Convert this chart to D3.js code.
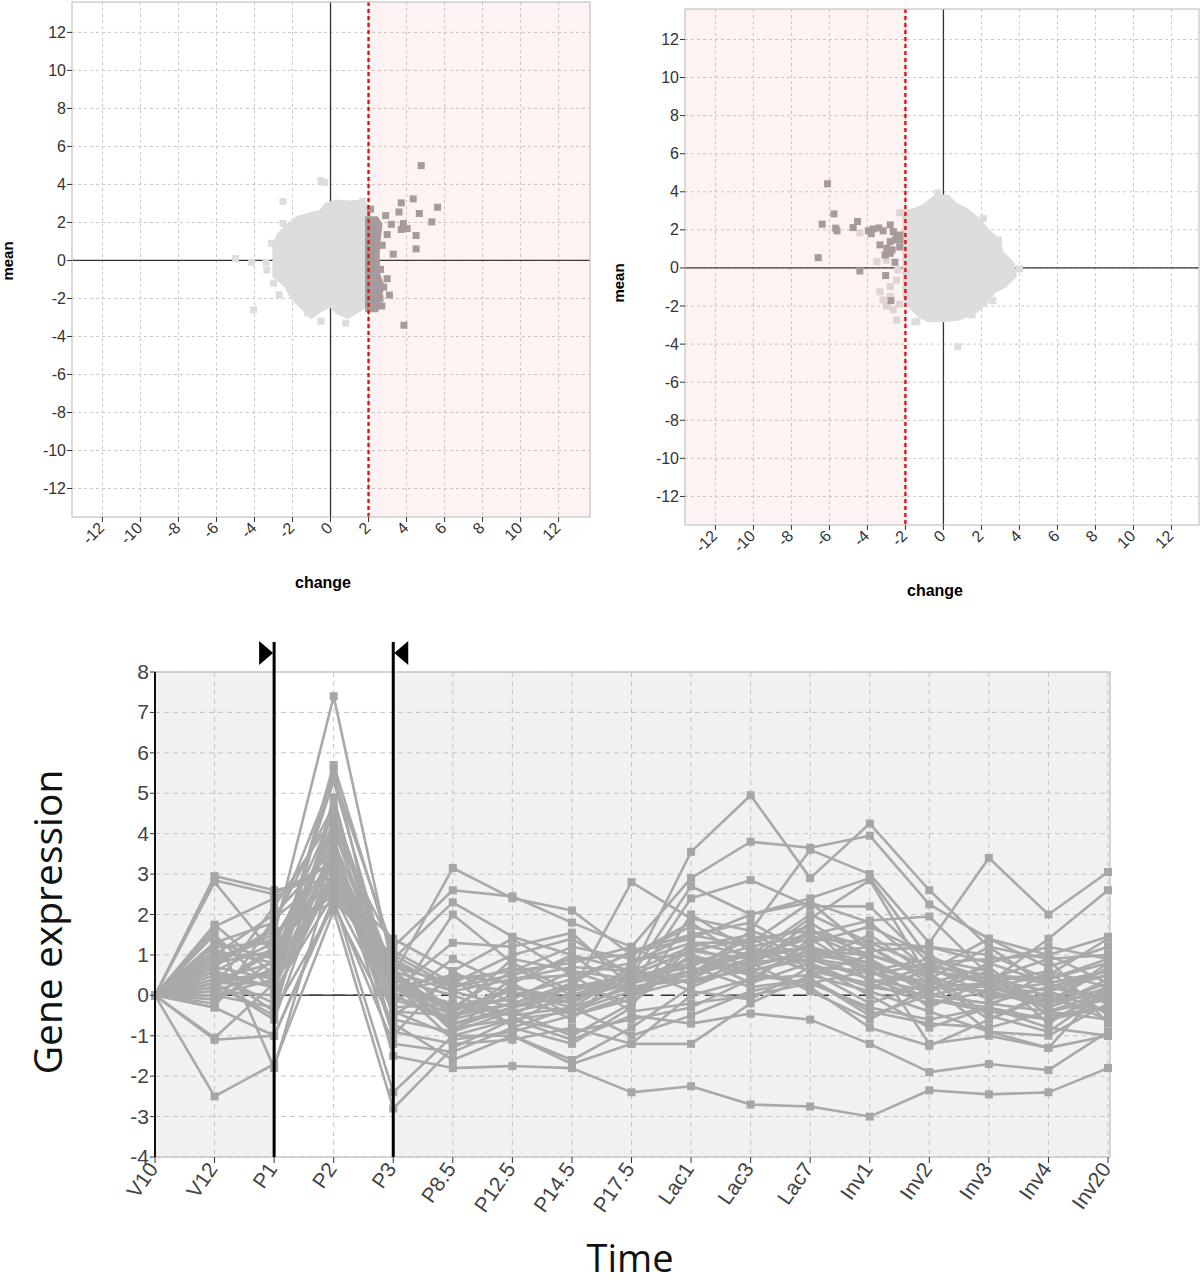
<!DOCTYPE html>
<html><head><meta charset="utf-8">
<script src="https://cdn.jsdelivr.net/npm/d3@7"></script>
<style>body{margin:0;background:#fff}svg{display:block}</style>
</head><body><svg id="c" width="1200" height="1286"></svg>
<script>
// ---------- scatter data ----------
const scatterTicks = [-12,-10,-8,-6,-4,-2,0,2,4,6,8,10,12];
const leftThreshold = 2;
const rightThreshold = -2;
// dense light cluster outline (change, mean)
const leftBlob = [[-0.2,2.9],[0.3,3.05],[1.0,3.0],[1.6,3.05],[1.95,2.8],[1.95,-2.3],[1.6,-2.5],[0.9,-2.9],[0.4,-2.7],[0.0,-2.3],[-0.6,-2.6],[-1.0,-2.9],[-1.6,-2.3],[-2.0,-1.9],[-2.3,-1.3],[-2.9,-0.8],[-2.9,0.7],[-2.7,1.3],[-2.2,1.8],[-1.7,2.2],[-1.0,2.4],[-0.5,2.5]];
const leftDarkBand = [[1.95,2.2],[2.4,2.2],[2.6,1.9],[2.5,1.0],[2.45,0.2],[2.5,-0.8],[2.7,-1.3],[2.6,-1.8],[2.4,-2.6],[1.95,-2.6]];
const leftLightPts = [[-5.0,0.1],[-4.15,-0.1],[-3.4,-0.1],[-3.35,-0.5],[-3.0,-1.2],[-2.7,-1.8],[-4.05,-2.6],[-2.5,3.1],[-2.5,1.95],[-0.5,4.2],[-0.3,4.1],[-1.2,-2.75],[-0.5,-3.2],[0.8,-3.3],[-3.1,0.9],[1.7,3.1]];
const leftDarkPts = [[4.77,4.99],[4.35,3.24],[3.72,3.03],[3.6,2.55],[4.67,2.47],[5.63,2.8],[5.33,2.03],[3.83,1.94],[2.9,2.36],[2.1,2.7],[4.03,1.68],[3.72,1.63],[4.5,1.31],[4.5,0.61],[3.3,0.33],[2.72,0.8],[2.98,1.36],[2.98,-0.96],[3.1,-1.82],[2.7,-2.4],[3.86,-3.41],[2.63,-0.47],[2.46,1.8],[3.2,1.9],[2.6,-2.0],[2.8,-1.4]];
const rightBlob = [[-2.0,2.9],[-1.5,3.0],[-1.0,3.2],[-0.4,3.7],[0.2,3.7],[0.6,3.3],[1.2,3.0],[1.8,2.5],[2.4,1.8],[2.9,1.4],[3.0,0.8],[3.6,0.2],[3.7,-0.4],[3.2,-0.9],[2.6,-1.2],[2.2,-1.8],[1.6,-2.3],[0.8,-2.6],[0.0,-2.7],[-0.8,-2.7],[-1.3,-2.4],[-1.8,-1.9],[-2.0,-1.5]];
const rightLightPts = [[-0.3,3.94],[0.8,3.05],[2.1,2.6],[2.9,1.47],[4.0,-0.05],[2.6,-1.72],[1.5,-2.47],[-1.5,-2.84],[0.75,-4.14],[-1.4,-2.8],[-3.34,-1.25],[-2.8,-0.98],[-2.46,-0.63],[-3.18,-1.68],[-2.65,-2.2],[-2.46,-2.74],[-2.8,-1.5],[-2.4,-0.1],[-3.5,0.33],[-3.0,0.4],[-4.4,1.84],[-2.3,2.9],[-2.3,-1.9],[-3.0,-2.0],[3.3,-0.6]];
const rightDarkPts = [[-6.1,4.42],[-5.76,2.84],[-6.38,2.3],[-5.67,2.09],[-5.6,1.95],[-4.52,2.44],[-4.75,2.12],[-6.59,0.54],[-4.4,-0.16],[-3.04,-0.4],[-2.76,-1.72],[-3.95,1.95],[-3.7,2.05],[-3.4,2.1],[-3.17,1.95],[-3.8,1.8],[-2.8,2.26],[-2.64,1.91],[-2.46,1.65],[-2.55,1.47],[-2.8,1.38],[-3.34,1.21],[-2.98,1.03],[-2.7,0.95],[-3.07,0.68],[-2.8,0.77],[-2.55,0.3],[-2.29,1.47],[-2.29,1.73],[-2.3,1.1]];

// ---------- line chart data ----------
const timeCats = ["V10","V12","P1","P2","P3","P8.5","P12.5","P14.5","P17.5","Lac1","Lac3","Lac7","Inv1","Inv2","Inv3","Inv4","Inv20"];
const exprTicks = [-4,-3,-2,-1,0,1,2,3,4,5,6,7,8];
const selStart = "P1", selEnd = "P3";
const exprSeries = [
[0,2.95,2.6,2.9,0.3,-0.8,-0.3,0.2,0.5,1.1,0.9,1.2,0.6,0.2,0.1,-0.3,0.2],
[0,2.85,2.5,3.3,0.5,3.15,2.4,2.1,1.0,1.7,1.3,2.3,1.8,0.6,0.4,0.1,0.5],
[0,2.8,1.0,4.0,1.2,2.6,2.45,1.8,1.2,2.9,3.8,3.65,3.95,2.25,1.4,1.0,1.45],
[0,1.75,0.5,5.7,0.9,2.3,1.45,1.0,0.6,3.55,4.95,2.9,4.25,2.6,1.2,0.9,1.0],
[0,1.6,-1.8,3.2,-0.2,2.0,0.8,0.1,2.8,1.9,1.6,3.6,3.0,1.3,3.4,2.0,3.05],
[0,1.3,1.8,4.7,0.1,1.3,1.2,1.55,0.2,2.4,2.85,2.2,2.2,0.8,0.3,1.4,2.6],
[0,1.0,2.0,3.6,-1.5,-1.8,-1.75,-1.8,-2.4,-2.25,-2.7,-2.75,-3.0,-2.35,-2.45,-2.4,-1.8],
[0,-2.5,-1.7,2.1,-2.8,-1.3,-0.6,-1.1,-0.5,-0.7,-0.45,-0.6,-1.2,-1.9,-1.7,-1.85,-0.9],
[0,-1.1,-1.0,2.4,-2.4,-1.0,-1.0,-1.7,-1.2,-1.2,-0.2,0.5,1.0,-1.2,-1.0,-1.3,-1.0],
[0,-1.05,0.3,2.8,1.4,0.6,-0.2,-0.4,0.3,0.8,1.2,1.5,1.85,1.95,0.5,0.4,0.8],
[0,0.9,1.5,7.4,0.6,-0.5,0.0,0.4,1.05,1.4,2.0,2.4,2.9,0.9,0.6,-0.5,-0.3],
[0,0.6,0.2,5.6,-0.5,0.45,-0.8,-1.2,-0.3,2.0,1.1,0.6,-0.2,0.3,-0.9,-1.3,0.3],
[0,0.4,0.8,5.3,0.2,-0.3,0.6,0.8,1.2,0.5,0.9,1.9,2.85,0.4,1.2,0.2,0.5],
[0,0.3,-0.5,4.9,-0.6,-0.9,0.3,1.0,0.0,1.0,0.3,0.8,0.0,-0.8,-0.3,0.6,-0.5],
[0,0.2,1.2,4.5,0.4,0.0,-0.5,-0.3,0.6,0.3,0.7,1.1,1.0,0.5,-0.5,-0.9,0.1],
[0,0.1,0.6,4.2,0.0,-0.6,-0.2,0.3,-0.2,1.2,1.5,0.9,0.4,0.1,0.8,0.3,-0.2],
[0,0.0,-0.3,3.9,-0.9,-1.2,-1.1,-0.8,-1.2,0.0,0.4,1.3,1.7,1.0,0.2,-0.2,0.7],
[0,-0.2,0.9,3.4,0.7,0.3,0.1,-0.6,0.8,1.5,1.8,1.0,0.8,-0.3,0.4,0.9,-0.7],
[0,-0.3,1.9,3.1,0.8,-0.4,0.9,0.6,0.1,0.6,1.0,2.0,1.3,1.2,1.0,0.4,0.9],
[0,1.2,1.3,2.6,0.5,-0.7,-0.4,-0.1,0.4,0.9,0.5,0.3,0.6,-0.1,-0.4,-0.6,0.0],
[0,0.7,0.4,3.0,0.2,0.5,0.3,-0.5,-0.1,1.3,1.3,1.7,0.3,0.7,0.0,-0.1,-0.4],
[0,0.5,-0.2,3.7,-0.3,-0.2,-0.7,0.1,0.5,0.7,0.2,0.4,-0.5,0.0,-0.2,0.2,0.6],
[0,0.8,1.6,2.3,1.0,0.2,0.5,0.9,1.0,1.8,0.8,1.6,1.2,0.3,0.7,-0.4,0.1],
[0,0.2,2.2,4.4,0.3,-1.1,-0.9,-0.5,0.0,0.4,0.6,0.2,-0.8,-1.25,-0.6,0.0,-0.6],
[0,1.5,0.1,2.5,-0.4,-0.5,0.2,-0.2,0.7,0.1,-0.1,0.7,0.2,0.6,1.4,0.7,1.2],
[0,0.3,-0.6,3.5,-1.0,0.6,1.4,0.5,-0.4,-0.2,0.0,0.3,-0.3,-0.6,-0.3,-0.8,-1.0],
[0,-0.1,0.7,2.7,0.9,0.1,-0.3,0.2,0.2,0.5,1.6,1.1,0.7,0.3,0.2,0.5,1.4],
[0,1.0,1.0,3.2,0.6,-0.8,-0.6,-0.9,-0.6,-0.3,0.4,0.5,0.1,-0.4,-0.9,-1.0,-0.2],
[0,0.6,-0.4,2.2,-0.7,-1.6,-1.0,-1.6,-0.8,0.2,0.8,0.1,-0.6,0.2,0.3,-0.3,0.4],
[0,0.4,0.5,4.1,0.1,0.4,0.6,1.2,0.9,1.0,0.3,1.4,0.5,0.8,0.9,1.0,0.3],
[0,0.9,1.4,3.8,0.4,-0.3,-0.1,0.6,0.4,0.7,1.4,0.8,1.5,0.5,-0.1,0.2,-0.1],
[0,0.1,0.0,2.9,-0.2,0.9,0.2,-0.2,0.6,1.2,0.7,1.8,0.9,0.1,0.6,-0.7,0.2],
[0,1.7,2.4,3.3,0.8,0.2,0.7,0.0,0.3,0.6,1.1,0.6,0.3,-0.2,0.1,0.3,0.6],
[0,0.3,0.3,4.6,0.5,-0.9,-0.4,-1.0,-0.2,1.0,0.6,1.0,1.2,0.4,-0.6,0.1,-0.4],
[0,1.1,0.8,2.8,-0.1,-0.6,0.4,0.7,0.6,0.3,0.9,1.5,0.9,0.0,0.3,0.6,0.2],
[0,0.2,1.1,3.0,0.2,-0.2,-0.5,0.3,1.1,1.5,1.2,0.7,0.6,0.9,0.4,-0.2,0.8],
[0,-0.3,-1.0,2.3,-1.2,-1.4,-0.8,-0.3,-1.0,-0.5,0.1,0.4,-0.4,-0.7,-0.8,-0.4,-0.6],
[0,0.7,1.7,5.4,1.1,0.3,1.0,1.4,0.5,2.7,2.0,2.3,1.1,1.2,0.8,1.2,0.9],
[0,0.5,0.2,3.1,0.3,-0.4,0.2,-0.1,0.3,0.8,1.0,1.2,0.8,0.2,0.1,-0.2,0.3],
[0,0.8,1.1,3.5,0.0,-0.7,-0.3,0.0,0.5,1.1,1.4,1.6,1.0,0.6,0.3,0.0,0.1],
[0,0.3,0.6,2.9,-0.4,-1.0,-0.6,-0.4,0.1,0.6,0.8,1.0,0.4,-0.1,-0.3,-0.6,-0.3],
[0,1.3,0.9,4.3,0.6,0.1,0.4,0.5,0.8,1.3,1.0,1.4,1.3,0.7,0.5,0.3,0.6],
[0,0.0,0.4,3.6,0.2,-0.5,-0.2,0.2,0.4,0.9,0.6,0.9,0.7,0.3,0.2,-0.1,0.0],
[0,0.6,1.3,2.5,0.4,-0.3,0.1,-0.3,0.2,0.4,1.1,0.8,0.2,0.0,-0.2,-0.4,-0.1]
];

const svg = d3.select("#c");

// ---------- scatter drawing ----------
function drawScatter(o) {
  const g = svg.append("g");
  const x = d3.scaleLinear().domain(o.xDom).range([o.x0, o.x1]);
  const y = d3.scaleLinear().domain(o.yDom).range([o.y1, o.y0]);
  g.append("rect").attr("x", o.x0).attr("y", o.y0).attr("width", o.x1 - o.x0).attr("height", o.y1 - o.y0).attr("fill", "#fff");
  g.selectAll(".gx").data(scatterTicks).join("line")
    .attr("x1", d => x(d)).attr("x2", d => x(d)).attr("y1", o.y0).attr("y2", o.y1)
    .attr("stroke", "#c9c9c9").attr("stroke-dasharray", "3,3");
  g.selectAll(".gy").data(scatterTicks).join("line")
    .attr("y1", d => y(d)).attr("y2", d => y(d)).attr("x1", o.x0).attr("x2", o.x1)
    .attr("stroke", "#c9c9c9").attr("stroke-dasharray", "3,3");
  g.append("line").attr("x1", x(0)).attr("x2", x(0)).attr("y1", o.y0).attr("y2", o.y1).attr("stroke", "#333").attr("stroke-width", 1.3);
  g.append("line").attr("x1", o.x0).attr("x2", o.x1).attr("y1", y(0)).attr("y2", y(0)).attr("stroke", "#333").attr("stroke-width", 1.3);
  const line = d3.line().x(d => x(d[0])).y(d => y(d[1])).curve(d3.curveLinearClosed);
  const sq = 7;
  g.append("path").attr("d", line(o.blob)).attr("fill", "#dddddd").attr("stroke", "#dddddd").attr("stroke-width", 6).attr("stroke-linejoin", "miter");
  g.selectAll(".lp").data(o.light).join("rect")
    .attr("x", d => x(d[0]) - sq/2).attr("y", d => y(d[1]) - sq/2).attr("width", sq).attr("height", sq).attr("fill", "#dddddd");
  if (o.band) g.append("path").attr("d", line(o.band)).attr("fill", "#a19e9e").attr("stroke", "#a19e9e").attr("stroke-width", 5);
  g.selectAll(".dp").data(o.dark).join("rect")
    .attr("x", d => x(d[0]) - sq/2).attr("y", d => y(d[1]) - sq/2).attr("width", sq).attr("height", sq).attr("fill", "#a19e9e");
  const sx0 = o.shadeRight ? x(o.thr) : o.x0, sx1 = o.shadeRight ? o.x1 : x(o.thr);
  g.append("rect").attr("x", sx0).attr("y", o.y0).attr("width", sx1 - sx0).attr("height", o.y1 - o.y0)
    .attr("fill", "rgb(235,120,120)").attr("fill-opacity", 0.085);
  g.append("line").attr("x1", x(o.thr)).attr("x2", x(o.thr)).attr("y1", o.y0).attr("y2", o.y1)
    .attr("stroke", "#e0151b").attr("stroke-width", 2.4).attr("stroke-dasharray", "4,3");
  g.append("rect").attr("x", o.x0).attr("y", o.y0).attr("width", o.x1 - o.x0).attr("height", o.y1 - o.y0)
    .attr("fill", "none").attr("stroke", "#c4c4c4").attr("stroke-width", 1.2);
  g.selectAll(".yt").data(scatterTicks).join("line")
    .attr("x1", o.x0 - 5).attr("x2", o.x0).attr("y1", d => y(d)).attr("y2", d => y(d)).attr("stroke", "#333");
  g.selectAll(".yl").data(scatterTicks).join("text")
    .attr("x", o.x0 - 6).attr("y", d => y(d) + 5.5).attr("text-anchor", "end")
    .attr("font-family", "Liberation Sans, Arial, sans-serif").attr("font-size", 16).attr("fill", "#333").text(d => d);
  g.selectAll(".xt").data(scatterTicks).join("line")
    .attr("x1", d => x(d)).attr("x2", d => x(d)).attr("y1", o.y1).attr("y2", o.y1 + 5).attr("stroke", "#333");
  g.selectAll(".xl").data(scatterTicks).join("text")
    .attr("transform", d => `translate(${x(d) + 3},${o.y1 + 12}) rotate(-45)`).attr("text-anchor", "end")
    .attr("font-family", "Liberation Sans, Arial, sans-serif").attr("font-size", 16).attr("fill", "#333").text(d => d);
  g.append("text").attr("x", o.xTitle[0]).attr("y", o.xTitle[1]).attr("text-anchor", "middle")
    .attr("font-family", "Liberation Sans, Arial, sans-serif").attr("font-size", 16).attr("font-weight", "bold").text("change");
  g.append("text").attr("transform", `translate(${o.yTitle[0]},${o.yTitle[1]}) rotate(-90)`).attr("text-anchor", "middle")
    .attr("font-family", "Liberation Sans, Arial, sans-serif").attr("font-size", 15).attr("font-weight", "bold").text("mean");
}

drawScatter({x0: 72, x1: 590, y0: 2, y1: 517, xDom: [-13.6, 13.65], yDom: [-13.5, 13.6],
  blob: leftBlob, band: leftDarkBand, light: leftLightPts, dark: leftDarkPts, thr: leftThreshold, shadeRight: true,
  xTitle: [323, 588], yTitle: [13, 261]});
drawScatter({x0: 685, x1: 1199, y0: 9, y1: 525, xDom: [-13.6, 13.45], yDom: [-13.5, 13.6],
  blob: rightBlob, band: null, light: rightLightPts, dark: rightDarkPts, thr: rightThreshold, shadeRight: false,
  xTitle: [935, 596], yTitle: [624, 283]});

// ---------- line chart ----------
(function () {
  const X0 = 155, X1 = 1108, XR = 1110, Y0 = 672, Y1 = 1157;
  const g = svg.append("g");
  const x = d3.scalePoint().domain(timeCats).range([X0, X1]);
  const y = d3.scaleLinear().domain([-4, 8]).range([Y1, Y0]);
  g.append("rect").attr("x", X0).attr("y", Y0).attr("width", XR - X0).attr("height", Y1 - Y0).attr("fill", "#f1f1f1");
  g.append("rect").attr("x", x(selStart)).attr("y", Y0).attr("width", x(selEnd) - x(selStart)).attr("height", Y1 - Y0).attr("fill", "#fff");
  g.selectAll(".gx").data(timeCats).join("line")
    .attr("x1", d => x(d)).attr("x2", d => x(d)).attr("y1", Y0).attr("y2", Y1)
    .attr("stroke", "#c4c4c4").attr("stroke-dasharray", "5,4");
  g.selectAll(".gy").data(exprTicks).join("line")
    .attr("y1", d => y(d)).attr("y2", d => y(d)).attr("x1", X0).attr("x2", XR)
    .attr("stroke", "#c4c4c4").attr("stroke-dasharray", "5,4");
  g.append("rect").attr("x", X0).attr("y", Y0).attr("width", XR - X0).attr("height", Y1 - Y0)
    .attr("fill", "none").attr("stroke", "#c8c8c8").attr("stroke-width", 1.5);
  g.append("line").attr("x1", X0).attr("x2", XR).attr("y1", y(0)).attr("y2", y(0))
    .attr("stroke", "#333").attr("stroke-width", 1.5).attr("stroke-dasharray", "14,8");
  g.append("line").attr("x1", x(selStart)).attr("x2", x(selEnd)).attr("y1", y(0)).attr("y2", y(0))
    .attr("stroke", "#444").attr("stroke-width", 1.5);
  const line = d3.line().x((d, i) => x(timeCats[i])).y(d => y(d));
  g.selectAll(".s").data(exprSeries).join("path")
    .attr("d", d => line(d)).attr("fill", "none").attr("stroke", "#a9a9a9").attr("stroke-width", 2.6).attr("stroke-linejoin", "round");
  const pts = exprSeries.flatMap(s => s.map((v, i) => [timeCats[i], v]));
  g.selectAll(".m").data(pts).join("rect")
    .attr("x", d => x(d[0]) - 4).attr("y", d => y(d[1]) - 4).attr("width", 8).attr("height", 8).attr("fill", "#a6a6a6");
  g.append("line").attr("x1", X0).attr("x2", X0).attr("y1", Y0).attr("y2", Y1).attr("stroke", "#111").attr("stroke-width", 2);
  g.selectAll(".yt").data(exprTicks).join("line")
    .attr("x1", X0 - 5).attr("x2", X0).attr("y1", d => y(d)).attr("y2", d => y(d)).attr("stroke", "#333");
  g.selectAll(".yl").data(exprTicks).join("text")
    .attr("x", X0 - 6).attr("y", d => y(d) + 7).attr("text-anchor", "end")
    .attr("font-family", "Liberation Sans, Arial, sans-serif").attr("font-size", 21).attr("fill", "#444").text(d => d);
  g.selectAll(".xt").data(timeCats).join("line")
    .attr("x1", d => x(d)).attr("x2", d => x(d)).attr("y1", Y1).attr("y2", Y1 + 6).attr("stroke", "#333");
  g.selectAll(".xl").data(timeCats).join("text")
    .attr("transform", d => `translate(${x(d) + 4},${Y1 + 12}) rotate(-55)`).attr("text-anchor", "end")
    .attr("font-family", "Liberation Sans, Arial, sans-serif").attr("font-size", 21).attr("fill", "#444").text(d => d);
  [selStart, selEnd].forEach((c, k) => {
    const cx = x(c);
    g.append("line").attr("x1", cx).attr("x2", cx).attr("y1", 642).attr("y2", Y1).attr("stroke", "#000").attr("stroke-width", 3);
    const tri = k === 0 ? [[cx - 15, 641], [cx - 15, 665], [cx - 1, 653]] : [[cx + 15, 641], [cx + 15, 665], [cx + 1, 653]];
    g.append("path").attr("d", "M" + tri.join("L") + "Z").attr("fill", "#000");
  });
  g.append("text").attr("x", 630).attr("y", 1272).attr("text-anchor", "middle")
    .attr("font-family", "Open Sans, sans-serif").attr("font-size", 38).attr("fill", "#111").text("Time");
  g.append("text").attr("transform", "translate(62,922) rotate(-90)").attr("text-anchor", "middle")
    .attr("font-family", "Open Sans, sans-serif").attr("font-size", 39).attr("fill", "#111").text("Gene expression");
})();
</script></body></html>
